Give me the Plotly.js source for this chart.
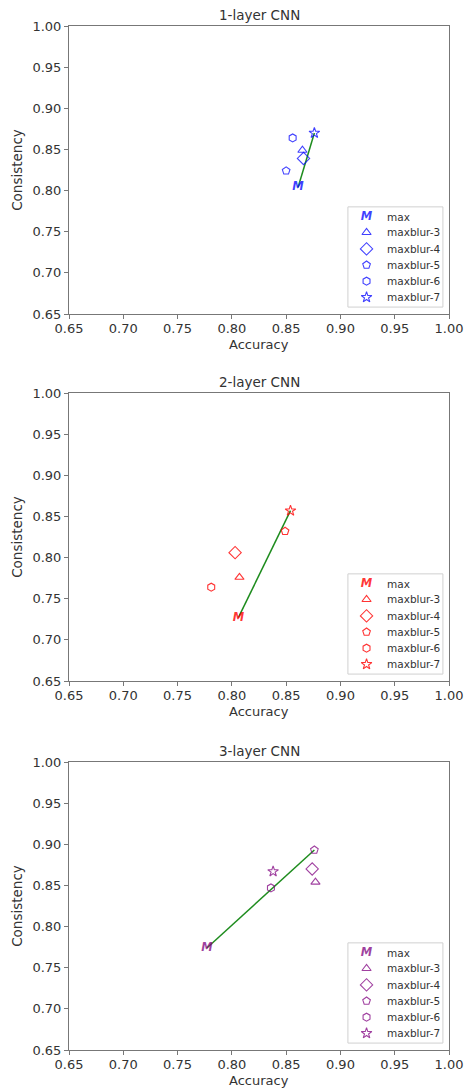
<!DOCTYPE html>
<html><head><meta charset="utf-8">
<script src="https://cdn.plot.ly/plotly-3.0.1.min.js"></script>
<style>html,body{margin:0;padding:0;background:#fff}#chart{width:470px;height:1088px}</style>
</head><body><div id="chart"></div>
<script>
// ---- data ----
const seriesNames = ['max','maxblur-3','maxblur-4','maxblur-5','maxblur-6','maxblur-7'];
const panelTitles = ['1-layer CNN','2-layer CNN','3-layer CNN'];
const tickVals = [0.65,0.70,0.75,0.80,0.85,0.90,0.95,1.00];
// accuracy per series (same order as seriesNames)
const acc1 = [0.861, 0.865, 0.866, 0.850, 0.856, 0.876];
const cons1 = [0.804, 0.849, 0.839, 0.824, 0.864, 0.870];
const acc2 = [0.806, 0.807, 0.803, 0.849, 0.781, 0.854];
const cons2 = [0.727, 0.776, 0.806, 0.832, 0.764, 0.857];
const acc3 = [0.777, 0.877, 0.874, 0.876, 0.836, 0.838];
const cons3 = [0.774, 0.854, 0.870, 0.893, 0.847, 0.867];
// index of series joined to "max" by the green line
const lineTo = [5, 5, 3];
const panelColors = ['rgba(0,0,255,0.75)','rgba(255,0,0,0.8)','rgba(128,0,128,0.75)'];

const symbols = [null,'triangle-up-open','diamond-open','pentagon-open','hexagon-open','star-open'];
const sizes = [0, 8, 9.5, 8, 8, 8];
const accs = [acc1, acc2, acc3];
const conss = [cons1, cons2, cons3];
const domains = [[0.71875,1.0],[0.36035,0.6416],[0.0,0.28125]];
const FONT = '"DejaVu Sans", sans-serif';
const TXT = '#333';

const traces = [];
const shapes = [];
const annotations = [];
const layout = {
  width:470, height:1088,
  margin:{l:69, r:21, t:26, b:38},
  paper_bgcolor:'#fff', plot_bgcolor:'#fff',
  showlegend:false,
  font:{family:FONT, color:TXT, size:13},
  shapes, annotations
};

// legend geometry (fractions of the axis domain)
const legRows = [0.338, 0.283, 0.226, 0.170, 0.114, 0.058];
const legSymX = 0.783;
const legTxtX = 0.832;
const mFont = col => ({family:'DejaVu Sans', size:11.5, color:col, weight:'bold', style:'italic'});

for (let p=0; p<3; p++) {
  const sfx = p===0 ? '' : String(p+1);
  const xa = 'x'+sfx, ya = 'y'+sfx;
  const col = panelColors[p];
  const A = accs[p], C = conss[p];
  // green line
  traces.push({type:'scatter', mode:'lines', xaxis:xa, yaxis:ya,
    x:[A[0], A[lineTo[p]]], y:[C[0], C[lineTo[p]]],
    line:{color:'rgb(30,140,30)', width:1.5}, hoverinfo:'skip'});
  // max as text marker
  traces.push({type:'scatter', mode:'text', xaxis:xa, yaxis:ya,
    x:[A[0]], y:[C[0]], text:['M'], textposition:'middle center', textfont:mFont(col)});
  for (let s=1; s<6; s++) {
    traces.push({type:'scatter', mode:'markers', xaxis:xa, yaxis:ya, name:seriesNames[s],
      x:[A[s]], y:[C[s]],
      marker:{symbol:symbols[s], size:sizes[s], color:col, line:{color:col, width:1.1}}});
  }
  // legend box
  shapes.push({type:'rect', xref:xa+' domain', yref:ya+' domain',
    x0:0.734, x1:0.984, y0:0.024, y1:0.372,
    line:{color:'#d0d0d0', width:1}, fillcolor:'rgba(255,255,255,0)', layer:'below'});
  // legend symbols (positions in data units of this axis from domain fractions)
  const toV = f => 0.65 + f*0.35;
  traces.push({type:'scatter', mode:'text', xaxis:xa, yaxis:ya,
    x:[toV(legSymX)], y:[toV(legRows[0])], text:['M'], textposition:'middle center',
    textfont:mFont(col)});
  for (let s=1; s<6; s++) {
    traces.push({type:'scatter', mode:'markers', xaxis:xa, yaxis:ya,
      x:[toV(legSymX)], y:[toV(legRows[s])],
      marker:{symbol:symbols[s], size:sizes[s], color:col, line:{color:col, width:1.1}}});
  }
  for (let s=0; s<6; s++) {
    annotations.push({xref:xa+' domain', yref:ya+' domain', x:legTxtX, y:legRows[s],
      xanchor:'left', yanchor:'middle', showarrow:false, text:seriesNames[s],
      font:{family:FONT, size:10.5, color:TXT}});
  }
  // panel title
  annotations.push({xref:xa+' domain', yref:ya+' domain', x:0.5, y:1, yshift:1,
    xanchor:'center', yanchor:'bottom', showarrow:false, text:panelTitles[p],
    font:{family:FONT, size:13.5, color:TXT}});
  // x axis title
  annotations.push({xref:xa+' domain', yref:ya+' domain', x:0.5, y:0, yshift:-30,
    xanchor:'center', yanchor:'middle', showarrow:false, text:'Accuracy', borderpad:0,
    font:{family:FONT, size:13, color:TXT}});

  const axCommon = {range:[0.65,1.0], tickvals:tickVals, tickformat:'.2f',
    showgrid:false, zeroline:false, showline:true, mirror:true,
    linecolor:'#777', linewidth:1, ticks:'outside', ticklen:4, tickcolor:'#777',
    tickfont:{family:FONT, size:13, color:TXT}};
  layout['xaxis'+sfx] = Object.assign({}, axCommon, {anchor:ya, domain:[0,1], ticklabelstandoff:-2});
  layout['yaxis'+sfx] = Object.assign({}, axCommon, {anchor:xa, domain:domains[p],
    title:{text:'Consistency', font:{family:FONT, size:13.5, color:TXT}, standoff:6}});
}

Plotly.newPlot('chart', traces, layout, {displayModeBar:false, staticPlot:true});
</script></body></html>
